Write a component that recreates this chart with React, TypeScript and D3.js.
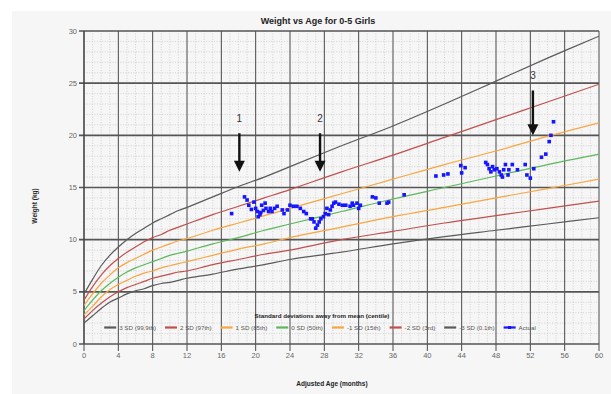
import * as React from "react";
import * as d3 from "d3";

// WHO weight-for-age reference (girls), months and kg
const sdMonths = [0, 1, 2, 3, 4, 5, 6, 7, 8, 9, 10, 11, 12, 15, 18, 21, 24, 30, 36, 42, 48, 54, 60];
const sdPlus3 = [4.8, 6.2, 7.5, 8.5, 9.3, 10.0, 10.6, 11.1, 11.6, 12.0, 12.4, 12.8, 13.1, 14.1, 15.1, 16.0, 17.0, 19.0, 20.9, 23.0, 25.2, 27.4, 29.5];
const sdPlus2 = [4.2, 5.5, 6.6, 7.5, 8.2, 8.8, 9.3, 9.8, 10.2, 10.5, 10.9, 11.2, 11.5, 12.4, 13.2, 14.0, 14.8, 16.5, 18.1, 19.8, 21.5, 23.2, 24.9];
const sdPlus1 = [3.7, 4.8, 5.8, 6.6, 7.3, 7.8, 8.2, 8.6, 9.0, 9.3, 9.6, 9.9, 10.1, 10.9, 11.6, 12.3, 13.0, 14.4, 15.8, 17.2, 18.5, 19.9, 21.2];
const sdZero = [3.2, 4.2, 5.1, 5.8, 6.4, 6.9, 7.3, 7.6, 7.9, 8.2, 8.5, 8.7, 8.9, 9.6, 10.2, 10.9, 11.5, 12.7, 13.9, 15.0, 16.1, 17.2, 18.2];
const sdMinus1 = [2.8, 3.6, 4.5, 5.2, 5.7, 6.1, 6.5, 6.8, 7.0, 7.3, 7.5, 7.7, 7.9, 8.5, 9.1, 9.6, 10.2, 11.2, 12.2, 13.1, 14.0, 14.9, 15.8];
const sdMinus2 = [2.4, 3.2, 3.9, 4.5, 5.0, 5.4, 5.7, 6.0, 6.3, 6.5, 6.7, 6.9, 7.0, 7.6, 8.1, 8.6, 9.0, 10.0, 10.8, 11.6, 12.3, 13.0, 13.7];
const sdMinus3 = [2.0, 2.7, 3.4, 4.0, 4.4, 4.8, 5.1, 5.3, 5.6, 5.8, 5.9, 6.1, 6.3, 6.7, 7.2, 7.6, 8.1, 8.8, 9.6, 10.3, 10.9, 11.5, 12.1];

const seriesLabels = ["3 SD (99.9th)", "2 SD (97th)", "1 SD (85th)", "0 SD (50th)", "-1 SD (15th)", "-2 SD (3rd)", "-3 SD (0.1th)"];
const seriesColors = ["#5a5a5a", "#c0504d", "#f9a540", "#5cb85c", "#f9a540", "#c0504d", "#5a5a5a"];
const seriesValues = [sdPlus3, sdPlus2, sdPlus1, sdZero, sdMinus1, sdMinus2, sdMinus3];

// actual measurements
const actualMonths = [
  17.2, 18.7, 19.2, 19.8, 20.0, 20.2, 20.5, 20.7, 21.1, 21.2, 21.5, 21.7, 21.9, 22.5, 23.1, 23.3, 23.7,
  24.0, 24.4, 24.8, 25.2, 25.6, 25.9, 26.4, 26.6, 26.8, 27.2, 27.4, 27.9, 28.1, 28.5, 28.7, 28.9, 29.1,
  29.3, 29.7, 30.1, 30.5, 31.0, 31.25, 31.4, 31.8, 32.0, 32.2, 33.6, 34.0, 34.4, 35.3, 35.5, 37.3,
  19.0, 19.5, 20.9, 22.2, 27.0, 27.6, 28.3, 20.3, 20.6,
  41.0, 41.9, 42.4, 43.9, 44.0, 44.4, 46.8, 47.0, 47.2, 47.4, 47.6, 47.8, 48.1, 48.4, 48.6, 48.75,
  48.9, 49.1, 49.4, 49.5, 49.9, 50.5, 51.4, 51.6, 52.0, 52.4, 53.3, 53.8, 54.2, 54.4, 54.7,
];
const actualWeights = [
  12.5, 14.1, 13.3, 13.6, 13.0, 12.7, 12.4, 13.3, 13.5, 13.0, 12.7, 13.0, 12.7, 13.2, 12.85, 12.5, 12.85,
  13.3, 13.2, 13.2, 13.0, 12.7, 12.5, 12.0, 12.0, 11.7, 11.4, 11.7, 12.2, 12.5, 12.4, 12.85, 13.2, 13.5,
  13.6, 13.4, 13.3, 13.3, 13.2, 13.5, 13.3, 13.5, 13.0, 13.3, 14.1, 14.0, 13.5, 13.5, 13.6, 14.3,
  13.8, 12.9, 12.8, 13.0, 11.1, 12.0, 13.0, 12.2, 12.6,
  16.1, 16.2, 16.3, 17.1, 16.4, 16.9, 17.4, 17.2, 16.8, 16.5, 17.0, 16.7, 16.8, 16.5, 16.2, 16.0,
  16.7, 17.2, 16.2, 16.7, 17.2, 16.7, 17.2, 16.2, 15.9, 16.8, 17.9, 18.2, 19.4, 20.0, 21.3,
];

// arrow annotations: month, label weight, arrow start and tip weights
const arrowLabels = ["1", "2", "3"];
const arrowMonths = [18.1, 27.5, 52.3];
const arrowTextAt = [21.6, 21.6, 25.7];
const arrowFrom = [20.2, 20.2, 24.3];
const arrowTo = [16.5, 16.5, 20.0];

const xTicks = d3.range(0, 61, 4);
const yTicks = d3.range(0, 31, 5);

const font = "'Liberation Sans', Arial, sans-serif";

const measure = (text: string, size: number, weight = "normal") => {
  const ctx = document.createElement("canvas").getContext("2d");
  if (!ctx) return text.length * size * 0.5;
  ctx.font = `${weight} ${size}px 'Liberation Sans', Arial, sans-serif`;
  return ctx.measureText(text).width;
};

const App: React.FC = () => {
  const width = 611;
  const height = 394;
  const marginLeft = 84;
  const marginRight = 12;
  const marginTop = 31;
  const marginBottom = 50;

  const x = d3.scaleLinear().domain([0, 60]).range([marginLeft, width - marginRight]);
  const y = d3.scaleLinear().domain([0, 30]).range([height - marginBottom, marginTop]);

  const line = d3
    .line<[number, number]>()
    .curve(d3.curveCatmullRom.alpha(0.5))
    .x((d) => x(d[0]))
    .y((d) => y(d[1]));

  const minorX = d3.range(0, 61, 1).filter((m) => m % 4 !== 0);
  const minorY = d3.range(0, 31, 1).filter((w) => w % 5 !== 0);

  // legend layout
  const legendFont = 6.2;
  const swatch = 12;
  const legendItems = [...seriesLabels, "Actual"];
  const legendWidths = legendItems.map((t) => measure(t, legendFont));
  const gap = 9;
  const legendTotal =
    d3.sum(legendWidths) + legendItems.length * (swatch + 3) + (legendItems.length - 1) * gap;
  const legendStart = 320 - legendTotal / 2;
  const legendX: number[] = [];
  legendWidths.reduce((acc, w) => {
    legendX.push(acc);
    return acc + swatch + 3 + w + gap;
  }, legendStart);
  const legendY = 327.5;

  return (
    <svg
      width={width}
      height={height}
      viewBox={`0 0 ${width} ${height}`}
      style={{ position: "absolute", left: 0, top: 0, fontFamily: font }}
    >
      <rect x={12} y={11} width={width - 12} height={height - 11} fill="#f6f6f6" />
      <defs>
        <clipPath id="plot">
          <rect x={x(0)} y={y(30)} width={x(60) - x(0)} height={y(0) - y(30)} />
        </clipPath>
      </defs>

      {/* minor grid */}
      <g stroke="#c9c9c9" strokeWidth={0.8} strokeDasharray="1,1.6">
        {minorX.map((m) => (
          <line key={`mx${m}`} x1={x(m)} x2={x(m)} y1={y(30)} y2={y(0)} />
        ))}
        {minorY.map((w) => (
          <line key={`my${w}`} x1={x(0)} x2={x(60)} y1={y(w)} y2={y(w)} />
        ))}
      </g>

      {/* major grid */}
      <g stroke="#4a4a4a" strokeWidth={1}>
        {xTicks.map((m) => (
          <line key={`gx${m}`} x1={x(m)} x2={x(m)} y1={y(30)} y2={y(0) + 7} />
        ))}
      </g>
      <g stroke="#555" strokeWidth={1.6}>
        {yTicks.map((w) => (
          <line key={`gy${w}`} x1={x(0) - 5} x2={x(60)} y1={y(w)} y2={y(w)} />
        ))}
      </g>
      <line x1={x(0)} x2={x(0)} y1={y(30)} y2={y(0)} stroke="#444" strokeWidth={1.2} />

      {/* reference curves */}
      <g clipPath="url(#plot)" fill="none" strokeWidth={1.2}>
        {seriesValues.map((vals, i) => (
          <path
            key={seriesLabels[i]}
            d={line(sdMonths.map((m, j) => [m, vals[j]] as [number, number])) || ""}
            stroke={seriesColors[i]}
          />
        ))}
      </g>

      {/* actual points */}
      <g fill="#1515ff">
        {actualMonths.map((m, i) => (
          <rect key={i} x={x(m) - 1.8} y={y(actualWeights[i]) - 1.8} width={3.6} height={3.6} />
        ))}
      </g>

      {/* arrows */}
      {arrowLabels.map((lab, i) => {
        const ax = x(arrowMonths[i]);
        const tip = y(arrowTo[i]);
        return (
          <g key={lab}>
            <text x={ax} y={y(arrowTextAt[i])} fontSize={10} textAnchor="middle" fill="#333" dy="0.35em">
              {lab}
            </text>
            <line x1={ax} x2={ax} y1={y(arrowFrom[i])} y2={tip - 8} stroke="#111" strokeWidth={2.4} />
            <path d={`M${ax - 5.5},${tip - 11}L${ax + 5.5},${tip - 11}L${ax},${tip}Z`} fill="#111" />
          </g>
        );
      })}

      {/* tick labels */}
      <g fontSize={7.5} fill="#666">
        {yTicks.map((w) => (
          <text key={`yl${w}`} x={x(0) - 7} y={y(w)} dy="0.35em" textAnchor="end">
            {w}
          </text>
        ))}
        {xTicks.map((m) => (
          <text key={`xl${m}`} x={x(m)} y={y(0) + 14} textAnchor="middle">
            {m}
          </text>
        ))}
      </g>

      {/* titles */}
      <text x={318} y={24} fontSize={9} fontWeight="bold" textAnchor="middle" fill="#222">
        Weight vs Age for 0-5 Girls
      </text>
      <text x={332} y={386} fontSize={6.5} fontWeight="bold" textAnchor="middle" fill="#222">
        Adjusted Age (months)
      </text>
      <text
        transform={`translate(37,206) rotate(-90)`}
        fontSize={6.5}
        fontWeight="bold"
        textAnchor="middle"
        fill="#222"
      >
        Weight (kg)
      </text>

      {/* legend */}
      <text x={322} y={318} fontSize={6.2} fontWeight="bold" textAnchor="middle" fill="#222">
        Standard deviations away from mean (centile)
      </text>
      {legendItems.map((t, i) => (
        <g key={t} transform={`translate(${legendX[i]},${legendY})`}>
          <line x1={0} x2={swatch} y1={0} y2={0} stroke={i < 7 ? seriesColors[i] : "#1515ff"} strokeWidth={2.2} />
          {i === 7 && <rect x={swatch / 2 - 1.5} y={-1.5} width={3} height={3} fill="#1515ff" />}
          <text x={swatch + 3} y={0} dy="0.35em" fontSize={legendFont} fill="#555">
            {t}
          </text>
        </g>
      ))}
    </svg>
  );
};

export default App;
